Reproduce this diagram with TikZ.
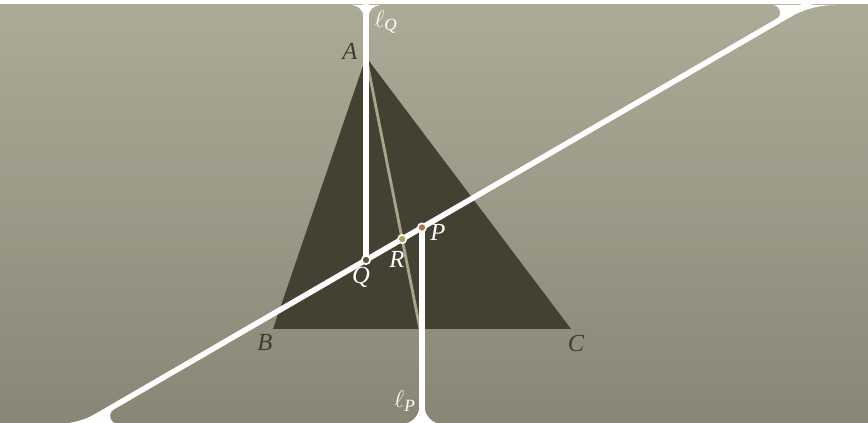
\documentclass[tikz,border=0pt]{standalone}
\usepackage{amsmath}
\usepackage{fontspec}
\setmainfont{Liberation Serif}
\definecolor{bgtop}{RGB}{172,171,151}
\definecolor{bgbottom}{RGB}{138,134,118}
\definecolor{triangledark}{RGB}{69,65,50}
\definecolor{cevian}{RGB}{168,166,138}
\definecolor{labeldark}{RGB}{62,60,48}
\definecolor{dotq}{RGB}{85,88,64}
\definecolor{dotr}{RGB}{176,160,90}
\definecolor{dotp}{RGB}{176,114,64}
\usetikzlibrary{calc}
\tikzset{
	whiteline/.style={
			draw=white,
			line width=1.65mm
		},
	cevianline/.style={
			draw=cevian,
			line width=0.85mm
		},
	flare/.style={
			fill=white,
			draw=none
		},
	dotnode/.style={
			circle,
			draw=white,
			line width=0.5mm,
			minimum size=2.5mm,
			inner sep=0pt
		},
	labelnode/.style={
			font=\fontsize{21}{24}\selectfont\itshape,
			inner sep=0pt
		},
	darklabel/.style={
			labelnode,
			text=labeldark
		},
	lightlabel/.style={
			labelnode,
			text=white
		}
}

\begin{document}
\begin{tikzpicture}[x=0.3mm, y=-0.3mm]
\useasboundingbox (0,0) rectangle (868,423);
\clip (0,0) rectangle (868,423);

\coordinate (A) at (366,57);
\coordinate (B) at (273,329);
\coordinate (C) at (571,329);
\coordinate (F) at (420,329);
\coordinate (Q) at (366,260);
\coordinate (P) at (422,227.5);
\coordinate (Dlo) at (55.7,440);
\coordinate (Dhi) at (831.5,-10);
\coordinate (R) at (intersection of A--F and Dlo--Dhi);
\coordinate (LQtop) at (366,-5);
\coordinate (LPbot) at (422,430);

% background and triangle
\shade[top color=bgtop, bottom color=bgbottom] (0,5) rectangle (868,423);
\fill[triangledark] (A) -- (B) -- (C) -- cycle;
\draw[cevianline] (A) -- (F);

% the three lines
\draw[whiteline] (LQtop) -- (Q);
\draw[whiteline] (Dlo) -- (Dhi);
\draw[whiteline] (P) -- (LPbot);

% flares where the lines meet the edges
\fill[flare] (363.5,5) -- (351.5,5) .. controls (358.1,5) and (363.5,10.4) .. (363.5,17) -- cycle;
\fill[flare] (368.5,5) -- (380.5,5) .. controls (373.9,5) and (368.5,10.4) .. (368.5,17) -- cycle;
\fill[flare] (419.5,424) -- (419.5,406) .. controls (419.5,415.9) and (411.4,424) .. (401.5,424) -- cycle;
\fill[flare] (424.5,424) -- (424.5,406) .. controls (424.5,415.9) and (432.6,424) .. (442.5,424) -- cycle;
\fill[flare] (800.7,5) -- (772.7,5) .. controls ($(772.7,5)!0.274!(800.7,5)$) and ($(776.5,19.1)!0.274!(800.7,5)$) .. (776.5,19.1) -- cycle;
\fill[flare] (810.7,5) -- (835.7,5) .. controls ($(835.7,5)!0.655!(810.7,5)$) and ($(789.1,17.6)!0.655!(810.7,5)$) .. (789.1,17.6) -- cycle;
\fill[flare] (78.2,424) -- (56.2,424) .. controls ($(56.2,424)!0.655!(78.2,424)$) and ($(97.2,413)!0.655!(78.2,424)$) .. (97.2,413) -- cycle;
\fill[flare] (88.2,424) -- (118.2,424) .. controls ($(118.2,424)!0.274!(88.2,424)$) and ($(114.2,408.9)!0.274!(88.2,424)$) .. (114.2,408.9) -- cycle;

\node[dotnode, fill=dotq] (dQ) at (Q) {};
\node[dotnode, fill=dotr] (dR) at (R) {};
\node[dotnode, fill=dotp] (dP) at (P) {};

\node[darklabel] (lA) at (350,51) {A};
\node[darklabel] (lB) at (265,342) {B};
\node[darklabel] (lC) at (576,343) {C};
\node[lightlabel] (lQ) at (361,277) {Q};
\node[lightlabel] (lR) at (397,259) {R};
\node[lightlabel] (lP) at (438,232) {P};
\node[lightlabel] (lellQ) at (386,22) {$\ell_{\textit{Q}}$};
\node[lightlabel] (lellP) at (405,401) {$\ell_{\textit{P}}$};

\end{tikzpicture}
\end{document}
